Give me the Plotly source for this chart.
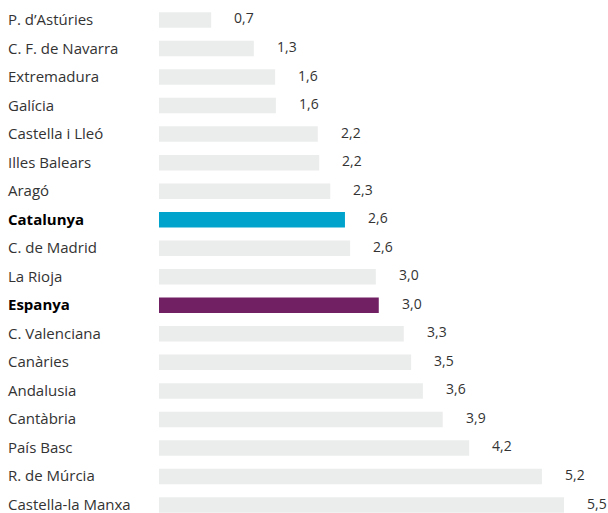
import plotly.graph_objects as go

categories = ["P. d’Astúries", "C. F. de Navarra", "Extremadura", "Galícia",
              "Castella i Lleó", "Illes Balears", "Aragó", "Catalunya",
              "C. de Madrid", "La Rioja", "Espanya", "C. Valenciana",
              "Canàries", "Andalusia", "Cantàbria", "País Basc",
              "R. de Múrcia", "Castella-la Manxa"]
values = [0.71, 1.29, 1.58, 1.59, 2.16, 2.18, 2.33, 2.53, 2.60, 2.95,
          2.99, 3.33, 3.43, 3.59, 3.86, 4.22, 5.21, 5.51]
value_labels = ["0,7", "1,3", "1,6", "1,6", "2,2", "2,2", "2,3", "2,6",
                "2,6", "3,0", "3,0", "3,3", "3,5", "3,6", "3,9", "4,2",
                "5,2", "5,5"]
highlight = {"Catalunya": "#00a3cc", "Espanya": "#702063"}

GREY = "#ebecec"
TEXT = "#333333"
FONT = "Open Sans"

colors = [highlight.get(c, GREY) for c in categories]

fig = go.Figure(go.Bar(
    x=values, y=categories, orientation="h",
    marker=dict(color=colors, line=dict(width=0)),
    hoverinfo="skip",
))

annotations = []
for c, v, lab in zip(categories, values, value_labels):
    annotations.append(dict(
        x=v, y=c, xref="x", yref="y", text=lab, showarrow=False,
        xanchor="left", yanchor="middle", xshift=21, yshift=2,
        font=dict(family=FONT, size=14, color=TEXT),
    ))
    bold = c in highlight
    annotations.append(dict(
        x=0, y=c, xref="paper", yref="y",
        text=f"<b>{c}</b>" if bold else c, showarrow=False,
        xanchor="left", yanchor="middle", xshift=-153, yshift=1,
        font=dict(family=FONT, size=15, color="#000000" if bold else TEXT),
    ))

fig.update_layout(
    width=608, height=513,
    margin=dict(l=159, r=0, t=0, b=0),
    paper_bgcolor="white", plot_bgcolor="white",
    bargap=0.457, showlegend=False,
    xaxis=dict(range=[0, 449 / 73.5], visible=False, fixedrange=True),
    yaxis=dict(range=[17.28, -0.70], showticklabels=False, showgrid=False,
               zeroline=False, fixedrange=True),
    annotations=annotations,
)

fig.write_html("out.html", config={"displayModeBar": False},
               post_script="document.body.style.margin='0';"
                           "document.body.style.overflow='hidden';")
